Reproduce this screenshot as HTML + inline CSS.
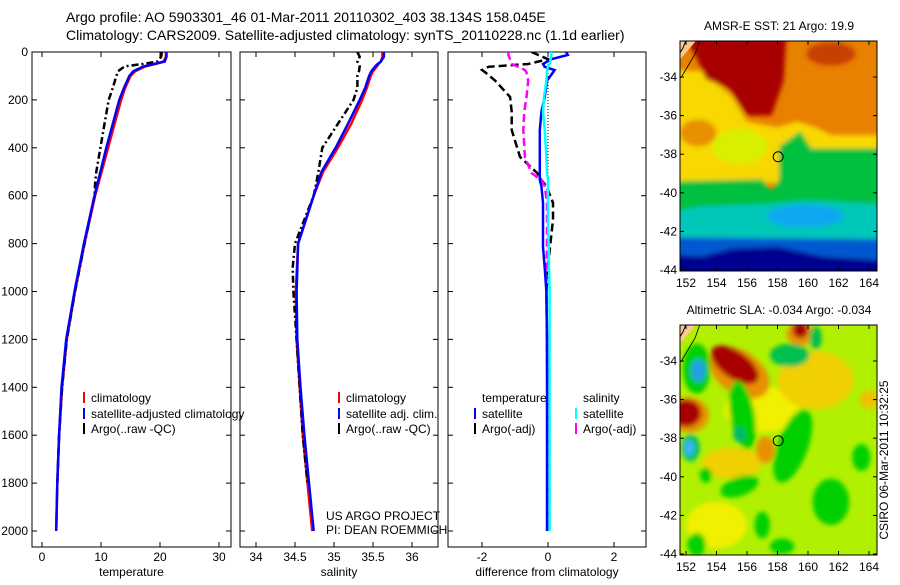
<!DOCTYPE html>
<html><head><meta charset="utf-8"><style>
body{margin:0;background:#fff;}
svg{font-family:"Liberation Sans",sans-serif;}
</style></head><body>
<svg id="fig" width="900" height="580" viewBox="0 0 900 580" xmlns="http://www.w3.org/2000/svg">
<rect width="900" height="580" fill="#fff"/>
<text x="66" y="22" font-size="14">Argo profile: AO 5903301_46 01-Mar-2011 20110302_403 38.134S 158.045E</text>
<text x="66" y="40" font-size="14">Climatology: CARS2009. Satellite-adjusted climatology: synTS_20110228.nc (1.1d earlier)</text>
<defs>
<clipPath id="c1"><rect x="32" y="52" width="199" height="495"/></clipPath>
<clipPath id="c2"><rect x="240" y="52" width="198" height="495"/></clipPath>
<clipPath id="c3"><rect x="448" y="52" width="198" height="495"/></clipPath>
<clipPath id="m1"><rect x="680" y="41" width="197" height="230"/></clipPath>
<clipPath id="m2"><rect x="680" y="325" width="197" height="230"/></clipPath>
<filter id="bl"><feGaussianBlur stdDeviation="2.5"/></filter>
</defs>
<g id="plots"></g>
<g id="maps"></g>
<text x="888" y="460" font-size="12" transform="rotate(-90 888 460)" text-anchor="middle">CSIRO 06-Mar-2011 10:32:25</text>
</svg>
<script>
// ---- profile data ----
const depthClim=[0,20,40,50,60,80,100,150,200,300,400,500,600,800,1000,1200,1400,1600,1800,2000];
const tempClim=[21,21,20.6,19.2,17.5,15.8,15.0,14.1,13.4,12.3,11.2,10.1,9.0,7.2,5.6,4.2,3.4,2.9,2.6,2.4];
const tempSat=[21.1,21.1,20.8,19,17.2,15.5,14.8,13.9,13.1,12.0,10.9,9.9,8.9,7.1,5.5,4.1,3.3,2.9,2.6,2.4];
const salClim=[35.62,35.62,35.6,35.57,35.55,35.5,35.47,35.42,35.36,35.22,35.05,34.86,34.74,34.54,34.51,34.52,34.56,34.6,34.66,34.72];
const salSat=[35.64,35.64,35.6,35.56,35.53,35.48,35.45,35.4,35.33,35.18,35.02,34.84,34.74,34.54,34.52,34.53,34.57,34.62,34.68,34.74];
const depthArgo=[0,20,40,50,60,80,100,150,200,300,400,500,550,600,800,900,1000,1200,1400,1600,1800];
const tempArgo=[20.3,20.2,19.5,17,14,12.9,12.6,12.0,11.3,10.6,9.9,9.2,9.0,8.9,7.2,6.4,5.6,4.2,3.4,2.9,2.6];
const salArgo=[35.3,35.33,35.3,35.32,35.33,35.32,35.3,35.3,35.25,35.05,34.85,34.8,34.77,34.74,34.5,34.47,34.48,34.52,34.56,34.6,34.66];
const depthDiff=[0,12,30,50,62,75,85,120,188,250,326,438,505,535,560,630,700,814,900,1000,1200,1400,1600,1800,2000];
const diffSatT=[0.55,0.6,0.1,-0.15,-0.1,0.2,0.15,-0.03,-0.1,-0.2,-0.25,-0.25,-0.25,-0.25,-0.2,-0.15,-0.15,-0.15,-0.1,-0.05,-0.03,-0.03,-0.03,-0.03,-0.03];
const diffArgoT=[-0.5,-0.3,0.0,-0.6,-1.8,-2.0,-1.9,-1.6,-1.15,-1.1,-1.1,-0.85,-0.33,-0.2,-0.05,0.15,0.15,0.06,0.0,-0.05,-0.03,-0.02,-0.02,-0.02,-0.02];
const diffSatS=[0.1,0.1,0.08,0.05,0.0,-0.03,-0.03,-0.05,-0.12,-0.15,-0.1,-0.05,-0.03,0.0,0.0,0.0,0.0,0.02,0.03,0.05,0.05,0.05,0.05,0.05,0.05];
const diffArgoS=[-1.2,-1.2,-1.15,-1.1,-0.9,-0.7,-0.65,-0.6,-0.65,-0.72,-0.75,-0.7,-0.5,-0.2,-0.1,-0.03,-0.03,-0.03,-0.05,-0.05,-0.03,-0.02,-0.02,-0.02,0.0];
const depthTicks=[0,200,400,600,800,1000,1200,1400,1600,1800,2000];
const tempTicks=[0,10,20,30];
const salTicks=[34,34.5,35,35.5,36];
const diffTicks=[-2,0,2];
const latTicks=[-34,-36,-38,-40,-42,-44];
const lonTicks=[152,154,156,158,160,162,164];

const NS="http://www.w3.org/2000/svg";
const plots=document.getElementById('plots');
const maps=document.getElementById('maps');
function mk(tag,attrs,parent){const e=document.createElementNS(NS,tag);for(const k in attrs)e.setAttribute(k,attrs[k]);(parent||plots).appendChild(e);return e;}
const yD=d=>52+d*0.2395;
const xT=t=>42+t*5.9;
const xS=s=>256+(s-34)*78;
const xDf=v=>548+v*33;

function panel(x0,x1,name,ticks,xf,fmt,label,yLabels){
  const r=mk('rect',{x:x0,y:52,width:x1-x0,height:495,fill:'none',stroke:'#000','stroke-width':1});
  
  
  ticks.forEach(t=>{const x=xf(t);
    mk('line',{x1:x,x2:x,y1:52,y2:57,stroke:'#000'});mk('line',{x1:x,x2:x,y1:547,y2:542,stroke:'#000'});
    const tx=mk('text',{x:x,y:561,'font-size':12,'text-anchor':'middle'});tx.textContent=fmt(t);
    
    
  });
  depthTicks.forEach(d=>{const y=yD(d);
    mk('line',{x1:x0,x2:x0+5,y1:y,y2:y,stroke:'#000'});mk('line',{x1:x1,x2:x1-5,y1:y,y2:y,stroke:'#000'});
    if(yLabels){const tx=mk('text',{x:28,y:y+4,'font-size':12,'text-anchor':'end'});tx.textContent=d;
      
      }
  });
  const xl=mk('text',{x:(x0+x1)/2,y:576,'font-size':12,'text-anchor':'middle'});xl.textContent=label;
  
  
}
function line(xs,ds,xf,color,w,dash,clip,name){
  const pts=xs.map((v,i)=>xf(v).toFixed(1)+','+yD(ds[i]).toFixed(1)).join(' ');
  const a={points:pts,fill:'none',stroke:color,'stroke-width':w,'clip-path':'url(#'+clip+')'};
  if(dash)a['stroke-dasharray']=dash;
  const p=mk('polyline',a);
  
  
}
function legend(x,y,color,txt,name){
  mk('line',{x1:x,x2:x,y1:y-10,y2:y+1,stroke:color,'stroke-width':2});
  const t=mk('text',{x:x+7,y:y,'font-size':12});t.textContent=txt;
  
  
}
panel(32,231,'temperature-panel',tempTicks,xT,t=>t,'temperature',true);
panel(240,438,'salinity-panel',salTicks,xS,t=>t,'salinity',false);
panel(448,646,'difference-panel',diffTicks,xDf,t=>t,'difference from climatology',false);

line(tempClim,depthClim,xT,'#f00',2.5,null,'c1','temp-climatology-line');
line(tempArgo,depthArgo,xT,'#000',2.5,'7,3,2,3','c1','temp-argo-line');
line(tempSat,depthClim,xT,'#00f',2.5,null,'c1','temp-satellite-line');
line(salClim,depthClim,xS,'#f00',2.5,null,'c2','sal-climatology-line');
line(salArgo,depthArgo,xS,'#000',2.5,'7,3,2,3','c2','sal-argo-line');
line(salSat,depthClim,xS,'#00f',2.5,null,'c2','sal-satellite-line');
mk('line',{x1:548,x2:548,y1:52,y2:190,stroke:'#000','stroke-dasharray':'1,2'});
line(diffArgoT,depthDiff,xDf,'#000',2.5,'8,4','c3','diff-argo-temp-line');
line(diffArgoS,depthDiff,xDf,'#f0f',2.5,'8,4','c3','diff-argo-sal-line');
line(diffSatT,depthDiff,xDf,'#00f',2.5,null,'c3','diff-satellite-temp-line');
line(diffSatS,depthDiff,xDf,'#0ff',2.5,null,'c3','diff-satellite-sal-line');

const lg=mk('g',{'clip-path':'url(#c1)'});
legend(84,402,'#f00','climatology','legend-climatology');
legend(84,418,'#00f','satellite-adjusted climatology','legend-satellite');
legend(84,433,'#000','Argo(..raw -QC)','legend-argo');
legend(339,402,'#f00','climatology','legend-sal-climatology');
legend(339,418,'#00f','satellite adj. clim.','legend-sal-satellite');
legend(339,433,'#000','Argo(..raw -QC)','legend-sal-argo');
let tt=mk('text',{x:482,y:402,'font-size':12});tt.textContent='temperature';


tt=mk('text',{x:583,y:402,'font-size':12});tt.textContent='salinity';


legend(475,418,'#00f','satellite','legend-diff-sat-temp');
legend(475,433,'#000','Argo(-adj)','legend-diff-argo-temp');
legend(576,418,'#0ff','satellite','legend-diff-sat-sal');
legend(576,433,'#f0f','Argo(-adj)','legend-diff-argo-sal');
tt=mk('text',{x:326,y:520,'font-size':12});tt.textContent='US ARGO PROJECT';


tt=mk('text',{x:326,y:534,'font-size':12});tt.textContent='PI: DEAN ROEMMICH';



// ---- maps ----
function mapAxes(top,title,name,clip){
  const lx=l=>686+(l-152)*15.25;
  const ly=l=>top+36+(-34-l)*19.3;
  return {lx,ly};
}
function drawMap(top,title,name,clip,shapes,base){
  const lx=l=>686+(l-152)*15.25;
  const ly=l=>top+36+(-34-l)*19.3;
  const g=mk('g',{'clip-path':'url(#'+clip+')'},maps);
  
  
  mk('rect',{x:680,y:top,width:197,height:230,fill:base},g);
  const gb=mk('g',{filter:'url(#bl)'},g);
  shapes.forEach(s=>{
    if(s[0]==='p'){mk('polygon',{points:s[2].map(p=>lx(p[0])+','+ly(p[1])).join(' '),fill:s[1]},gb);}
    else{const cx=lx(s[2]),cy=ly(s[3]);mk('ellipse',{cx:cx,cy:cy,rx:s[4]*15.25,ry:s[5]*19.3,fill:s[1],transform:'rotate('+(s[6]||0)+' '+cx+' '+cy+')'},gb);}
  });
  mk('polygon',{points:[[151.4,-31.9],[152.9,-31.9],[151.4,-33.3]].map(p=>lx(p[0])+','+ly(p[1])).join(' '),fill:'#f8c890'},g);
  mk('polyline',{points:[[152.1,-31.9],[151.8,-32.5],[151.4,-33.0]].map(p=>lx(p[0])+','+ly(p[1])).join(' '),fill:'none',stroke:'#000'},g);
  mk('polyline',{points:[[153,-31.9],[152.6,-32.8],[151.7,-34.0],[151.4,-34.2]].map(p=>lx(p[0])+','+ly(p[1])).join(' '),fill:'none',stroke:'#000','stroke-width':0.8},g);
  const c=mk('circle',{cx:lx(158.045),cy:ly(-38.134),r:5,fill:'none',stroke:'#000'},maps);
  
  
  mk('rect',{x:680,y:top,width:197,height:230,fill:'none',stroke:'#000'},maps);
  lonTicks.forEach(l=>{const x=lx(l);
    mk('line',{x1:x,x2:x,y1:top,y2:top+4,stroke:'#000'},maps);mk('line',{x1:x,x2:x,y1:top+230,y2:top+226,stroke:'#000'},maps);
    const t=mk('text',{x:x,y:top+246,'font-size':12,'text-anchor':'middle'},maps);t.textContent=l;
    
    });
  latTicks.forEach(l=>{const y=ly(l);
    mk('line',{x1:680,x2:684,y1:y,y2:y,stroke:'#000'},maps);mk('line',{x1:877,x2:873,y1:y,y2:y,stroke:'#000'},maps);
    const t=mk('text',{x:677,y:y+4,'font-size':12,'text-anchor':'end'},maps);t.textContent=l;
    
    });
  const t=mk('text',{x:779,y:top-11,'font-size':12,'text-anchor':'middle'},maps);t.textContent=title;
  
  
}
const sstShapes=[
 ['p','#f8d800',[[151,-33.6],[153,-33.7],[155,-35],[156,-36.3],[158,-36.6],[159.3,-36.3],[160.5,-36.6],[161.5,-37],[165,-37],[165,-39.5],[151,-39.5]]],
 ['e','#e89000',152.8,-36.9,1.2,0.7,0],
 ['e','#d8f000',155.5,-37.6,1.8,0.9,0],
 ['p','#a80000',[[151.6,-31.5],[158.6,-31.5],[158.4,-34.2],[157.6,-36],[156,-36],[154.8,-34.6],[153.3,-34.1],[152.7,-33]]],
 ['e','#c84000',161.5,-32.8,1.6,0.6,0],
 ['p','#00c040',[[151,-39.4],[157,-39.3],[157.6,-39.9],[158.1,-39.3],[158.1,-37.6],[159,-37.1],[159.5,-36.8],[160.2,-37.7],[165,-37.7],[165,-41.2],[151,-41.2]]],
 ['p','#00c8b8',[[151,-41],[153,-40.7],[157,-40.6],[160,-40.4],[165,-40.6],[165,-42.5],[151,-42.5]]],
 ['e','#10a8f0',159.8,-41.2,2.5,0.6,0],
 ['p','#0058d0',[[151,-42.3],[165,-42.4],[165,-43.5],[151,-43.4]]],
 ['p','#000090',[[151,-43.2],[153,-43.3],[155,-42.9],[158,-42.8],[161,-43.3],[165,-43.5],[165,-45],[151,-45]]]
];
const slaShapes=[
 ['e','#f0f000',157,-36.5,2.5,1.2,0],
 ['e','#f0d000',160.5,-35,2.5,1.5,0],
 ['e','#f0d000',155,-39.3,2,0.8,0],
 ['e','#f0f000',154,-42.5,2,1.2,0],
 ['e','#e89000',155.5,-34.6,2.2,1.1,35],
 ['e','#a80000',155.2,-34.2,1.8,0.7,35],
 ['e','#e89000',152.2,-36.8,1.3,0.9,0],
 ['e','#a80000',152,-36.7,1,0.7,0],
 ['e','#e89000',159.5,-32.6,0.9,0.6,0],
 ['e','#a80000',159.5,-32.4,0.5,0.4,0],
 ['e','#e89000',157.2,-38.6,0.6,0.7,0],
 ['e','#f0c000',164,-36,0.6,0.5,0],
 ['e','#00d000',152.7,-34.4,0.9,1.3,0],
 ['e','#20a0e0',152.8,-34.5,0.5,0.6,0],
 ['e','#00c070',152.3,-38.5,0.6,0.7,0],
 ['e','#40b0ff',152.2,-38.5,0.3,0.4,0],
 ['e','#00d000',155.7,-36.8,0.8,1.8,-10],
 ['e','#00b870',155.5,-37.8,0.4,0.4,0],
 ['e','#00d000',159,-38.4,1,2,20],
 ['e','#00c050',158.8,-33.7,1.3,0.6,0],
 ['e','#00d000',161.5,-41.3,1.2,1.2,0],
 ['e','#00d000',163.5,-39,0.6,0.7,0],
 ['e','#00d000',155.5,-40.5,1.3,0.5,-20],
 ['e','#00d000',153.3,-39.9,0.4,0.4,0],
 ['e','#00d000',157,-42.5,0.5,0.7,0],
 ['e','#00d000',152.7,-43.5,0.6,0.6,0],
 ['e','#00d000',158.3,-43.6,0.8,0.4,0],
 ['e','#00c050',160.5,-32.8,0.4,0.6,0]
];
drawMap(41,'AMSR-E SST: 21  Argo: 19.9','sst-map','m1',sstShapes,'#e88000');
drawMap(325,'Altimetric SLA: -0.034  Argo: -0.034','sla-map','m2',slaShapes,'#b0f000');
</script>
</body></html>
